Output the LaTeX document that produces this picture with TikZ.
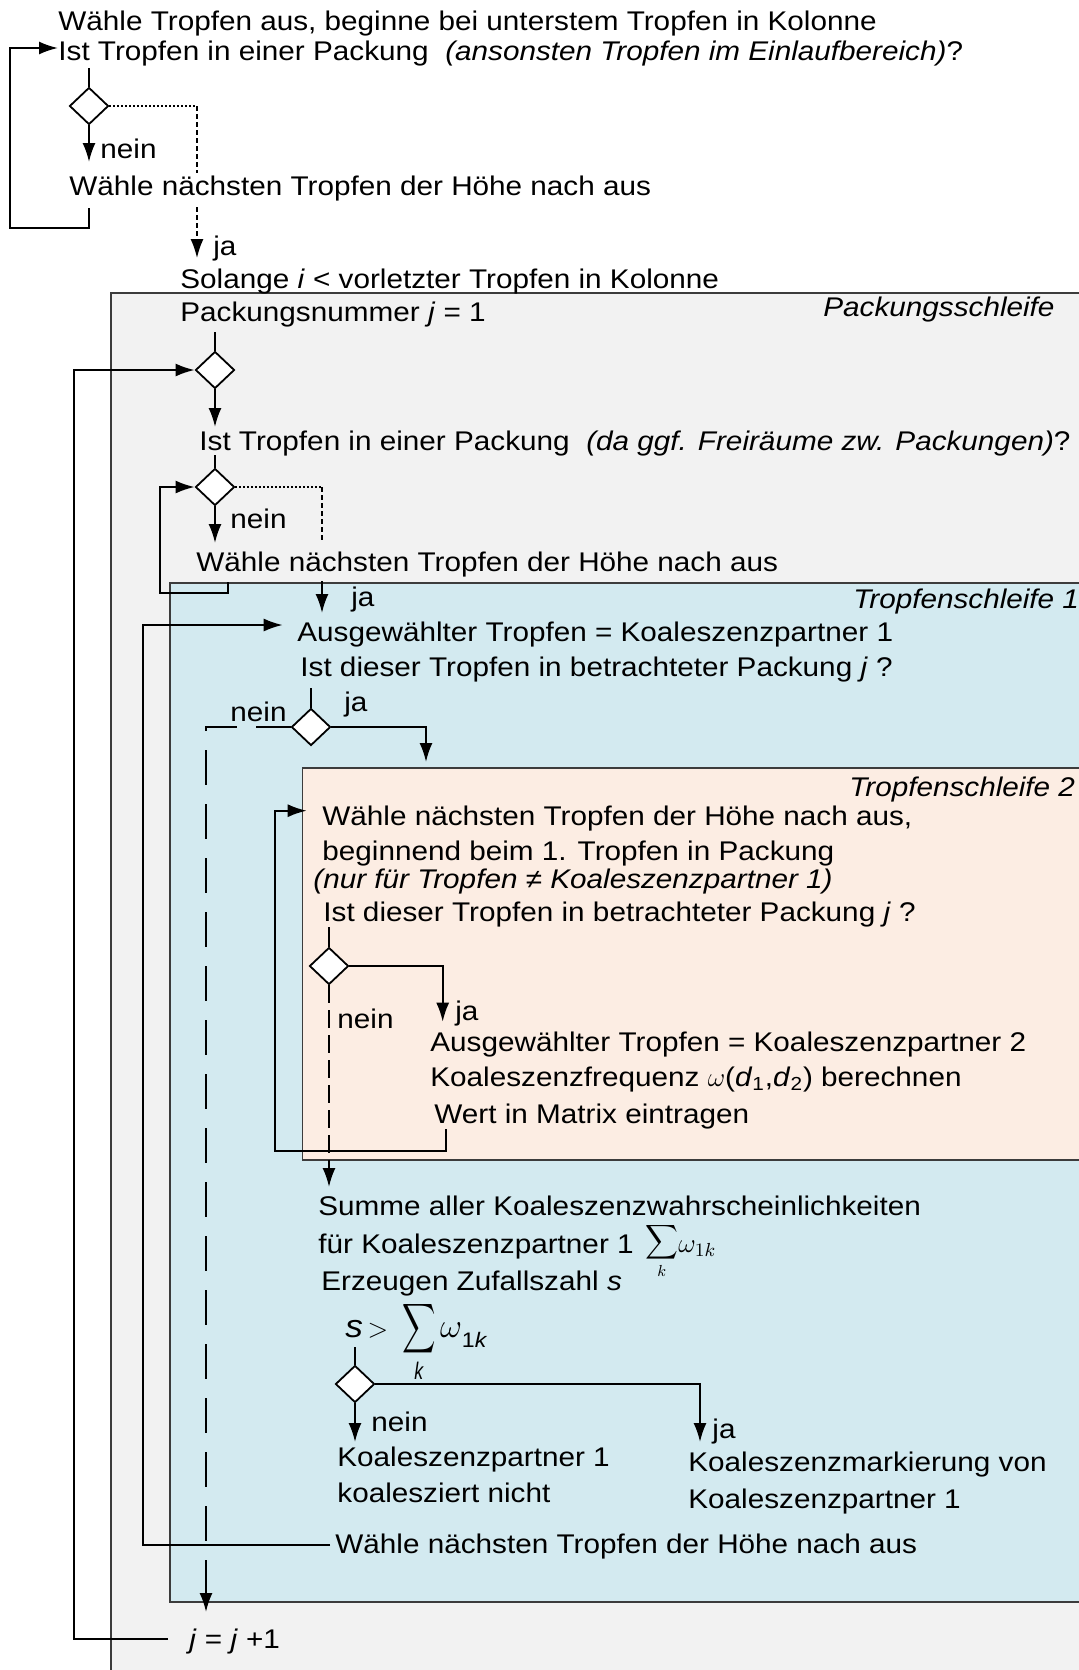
\RequirePackage{fix-cm}
\documentclass[tikz,border=0pt]{standalone}
\usepackage{amsmath}
\usepackage{exscale}
\usepackage{graphicx}
\usepackage{fontspec}
\setmainfont{Liberation Sans}[FakeStretch=1.1]
\usetikzlibrary{arrows.meta,shapes.geometric}

\definecolor{packfill}{HTML}{F2F2F2}
\definecolor{loopone}{HTML}{D3EAF0}
\definecolor{looptwo}{HTML}{FCEDE3}
\definecolor{frameline}{HTML}{3C3C3C}

\begin{document}
\begin{tikzpicture}[x=0.5pt,y=-0.5pt,
  txt/.style={anchor=base west, inner sep=0pt, font=\fontsize{13.5}{16}\selectfont},
  loopcap/.style={txt, font=\fontsize{13.5}{16}\selectfont\itshape},
  decision/.style={diamond, draw=black, fill=white, line width=0.9pt, inner sep=0pt,
                   minimum width=19.5pt, minimum height=18.5pt},
  frame/.style={draw=frameline, line width=0.75pt},
  link/.style={line width=1pt},
  tip/.style={-{Latex[length=9.5pt,width=6.5pt]}},
  flow/.style={link, tip},
  yesdot/.style={line width=0.8pt, dash pattern=on 1pt off 1pt},
  yesdash/.style={line width=0.8pt, dash pattern=on 2.5pt off 1.5pt},
  neinlong/.style={line width=1pt, dash pattern=on 17.5pt off 9.5pt},
  neinshort/.style={line width=1pt, dash pattern=on 9pt off 3.5pt}
]
\useasboundingbox (0,0) rectangle (1078,1670);

% nested loop frames (open to the right)
\path[frame, fill=packfill] (111,293) rectangle (1120,1720);
\path[frame, fill=loopone]  (170,583) rectangle (1120,1602);
\path[frame, fill=looptwo]  (302.5,768) rectangle (1120,1160);

% loop captions
\node[loopcap] (capP)  at (823,316.7) {Packungsschleife};
\node[loopcap] (capT1) at (853,608)   {Tropfenschleife 1};
\node[loopcap] (capT2) at (849,796.7) {Tropfenschleife 2};

% texts
\node[txt] (t1)  at (58,31)     {Wähle Tropfen aus, beginne bei unterstem Tropfen in Kolonne};
\node[txt] (t2)  at (58,60)     {Ist Tropfen in einer Packung\ \ \textit{(ansonsten Tropfen im Einlaufbereich)}?};
\node[txt] (n1)  at (100,158)   {nein};
\node[txt] (t3)  at (69,195)    {Wähle nächsten Tropfen der Höhe nach aus};
\node[txt] (j1)  at (213,255)   {ja};
\node[txt] (t4)  at (180,288)   {Solange \textit{i} < vorletzter Tropfen in Kolonne};
\node[txt] (t5)  at (180,321.7) {Packungsnummer \textit{j} = 1};
\node[txt] (t6)  at (199,450)   {Ist Tropfen in einer Packung\ \ \textit{(da ggf. Freiräume zw. Packungen)}?};
\node[txt] (n2)  at (230,528)   {nein};
\node[txt] (t7)  at (196,571.7) {Wähle nächsten Tropfen der Höhe nach aus};
\node[txt] (j2)  at (351,606.7) {ja};
\node[txt] (t8)  at (297,641.7) {Ausgewählter Tropfen = Koaleszenzpartner 1};
\node[txt] (t9)  at (300,676.7) {Ist dieser Tropfen in betrachteter Packung \textit{j} ?};
\node[txt] (n3)  at (230,721.7) {nein};
\node[txt] (j3)  at (344,711.7) {ja};
\node[txt] (t10) at (322,825)   {Wähle nächsten Tropfen der Höhe nach aus,};
\node[txt] (t11) at (322,860)   {beginnend beim 1. Tropfen in Packung};
\node[txt] (t12) at (313,888.3) {\textit{(nur für Tropfen ≠ Koaleszenzpartner 1)}};
\node[txt] (t13) at (323,921.7) {Ist dieser Tropfen in betrachteter Packung \textit{j} ?};
\node[txt] (n4)  at (337,1028)  {nein};
\node[txt] (j4)  at (455,1020)  {ja};
\node[txt] (t14) at (430,1051.7) {Ausgewählter Tropfen = Koaleszenzpartner 2};
\node[txt] (t15) at (430,1086.7) {Koaleszenzfrequenz $\omega$(\textit{d}\textsubscript{1},\textit{d}\textsubscript{2}) berechnen};
\node[txt] (t16) at (434,1123.3) {Wert in Matrix eintragen};
\node[txt] (t17) at (318,1215)  {Summe aller Koaleszenzwahrscheinlichkeiten};
\node[txt] (t18) at (318,1253.3) {für Koaleszenzpartner 1};
\node[txt] (sum1) at (645,1248)
  {\scalebox{0.95}[1]{\fontsize{12}{14}\selectfont$\displaystyle\sum_k$}\raisebox{-2pt}{\fontsize{13.5}{16}\selectfont$\omega_{1k}$}};
\node[txt] (t19) at (321,1290)  {Erzeugen Zufallszahl \textit{s}};
\node[txt] (t20) at (345,1337.5)
  {{\fontsize{16}{18}\selectfont\textit{s}}\,$>$\hspace{7pt}\scalebox{0.67}[1]{\fontsize{17.28}{19}\selectfont$\displaystyle\sum_{\text{\itshape k}}$}\,{\fontsize{17}{19}\selectfont$\omega$}\raisebox{-5pt}{\fontsize{10.5}{12}\selectfont 1\textit{k}}};
\node[txt] (n5)  at (371,1431.7) {nein};
\node[txt] (j5)  at (712,1438)  {ja};
\node[txt] (t21) at (337,1466.7) {Koaleszenzpartner 1};
\node[txt] (t22) at (337,1502.7) {koalesziert nicht};
\node[txt] (t23) at (688,1471.7) {Koaleszenzmarkierung von};
\node[txt] (t24) at (688,1508.3) {Koaleszenzpartner 1};
\node[txt] (t25) at (335,1553.3) {Wähle nächsten Tropfen der Höhe nach aus};
\node[txt] (t26) at (189,1648.3) {\textit{j} = \textit{j} +1};

% decisions
\node[decision] (d1) at (89,106)  {};
\node[decision] (d2) at (215,370) {};
\node[decision] (d3) at (215,487) {};
\node[decision] (d4) at (311,727) {};
\node[decision] (d5) at (329,966) {};
\node[decision] (d6) at (355,1384) {};

% --- first decision: is the drop inside a packing?
\coordinate (d1in)   at (89,68);
\coordinate (d1no)   at (89,162);
\coordinate (r1)     at (89,208);
\coordinate (t2in)   at (58,48);
\coordinate (y1a)    at (197,106);
\coordinate (y1b)    at (197,173);
\coordinate (y1c)    at (197,207);
\coordinate (y1d)    at (197,258);
\draw[link] (d1in) -- (d1.north);
\draw[flow] (d1.south) -- (d1no);
\draw[flow] (r1) -- (89,228) -- (10,228) -- (10,48) -- (t2in);
\draw[yesdot] (d1.east) -- (y1a);
\draw[yesdash] (y1a) -- (y1b);
\draw[yesdash, tip] (y1c) -- (y1d);

% --- packing loop
\coordinate (d2in)  at (215,332);
\coordinate (d2out) at (215,427);
\coordinate (back1) at (168,1639);
\draw[link] (d2in) -- (d2.north);
\draw[flow] (d2.south) -- (d2out);
\draw[flow] (back1) -- (74,1639) -- (74,370) -- (d2.west);

% --- second decision: drop in a packing?
\coordinate (d3in)  at (215,455);
\coordinate (d3no)  at (215,543);
\coordinate (r2)    at (228,582);
\coordinate (y2a)   at (322,487);
\coordinate (y2b)   at (322,543);
\coordinate (y2c)   at (322,581);
\coordinate (y2d)   at (322,613);
\draw[link] (d3in) -- (d3.north);
\draw[flow] (d3.south) -- (d3no);
\draw[flow] (r2) -- (228,593) -- (160,593) -- (160,487) -- (d3.west);
\draw[yesdot] (d3.east) -- (y2a);
\draw[yesdash] (y2a) -- (y2b);
\draw[flow] (y2c) -- (y2d);

% --- drop loop 1
\coordinate (r3)    at (330,1545);
\coordinate (t8in)  at (282.7,625);
\coordinate (d4in)  at (311,688);
\coordinate (d4yes) at (426,762);
\coordinate (d4no)  at (206,1612);
\draw[flow] (r3) -- (143,1545) -- (143,625) -- (t8in);
\draw[link] (d4in) -- (d4.north);
\draw[flow] (d4.east) -- (426,727) -- (d4yes);
\draw[neinlong, tip] (d4.west) -- (206,727) -- (d4no);

% --- drop loop 2
\coordinate (r4)    at (446,1129);
\coordinate (t10in) at (306.7,810.7);
\coordinate (d5in)  at (329,927);
\coordinate (d5yes) at (442.7,1021.7);
\coordinate (d5no)  at (329,1187);
\draw[flow] (r4) -- (446,1150.7) -- (275,1150.7) -- (275,810.7) -- (t10in);
\draw[link] (d5in) -- (d5.north);
\draw[flow] (d5.east) -- (442.7,966) -- (d5yes);
\draw[neinshort, tip] (d5.south) -- (d5no);

% --- coalescence decision
\coordinate (d6in)  at (355,1347);
\coordinate (d6yes) at (700,1442);
\coordinate (d6no)  at (355,1442);
\draw[link] (d6in) -- (d6.north);
\draw[flow] (d6.east) -- (700,1384) -- (d6yes);
\draw[flow] (d6.south) -- (d6no);
\end{tikzpicture}
\end{document}
